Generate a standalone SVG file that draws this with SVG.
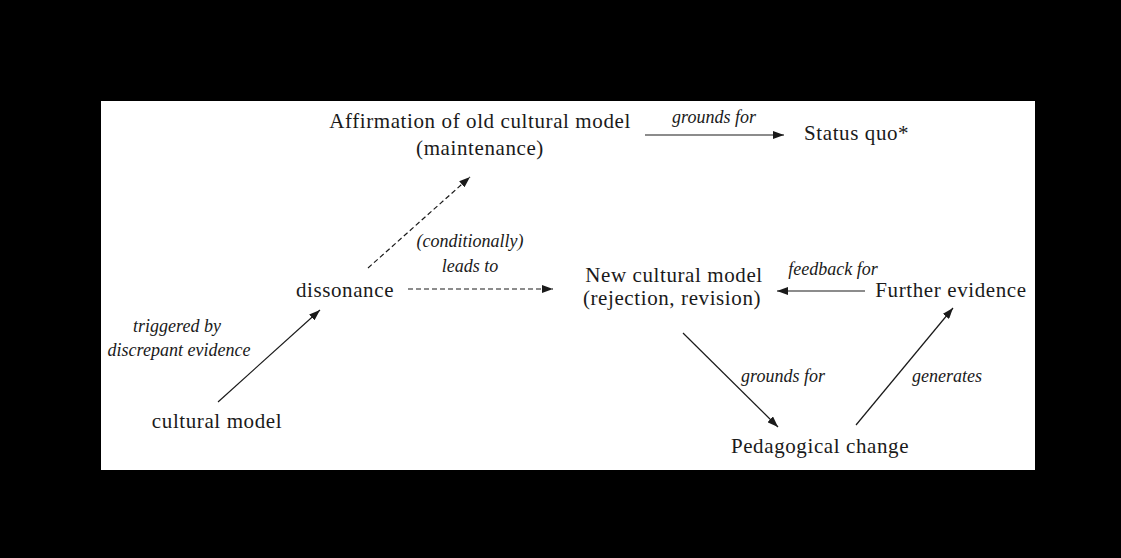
<svg xmlns="http://www.w3.org/2000/svg" width="1121" height="558" viewBox="0 0 1121 558">
<style>
.n{font-family:"Liberation Serif","Times New Roman",serif;font-size:21px;letter-spacing:0.6px;fill:#1a1a1a}
.l{font-family:"Liberation Serif","Times New Roman",serif;font-size:18px;font-style:italic;fill:#1a1a1a}
.c{text-anchor:middle}
.e{stroke:#1a1a1a;stroke-width:1.2;fill:none}
.d{stroke-dasharray:5 3}
</style>
<defs>
<marker id="ah" markerUnits="userSpaceOnUse" markerWidth="12" markerHeight="8" refX="11" refY="4" orient="auto">
<path d="M0,0 L11,4 L0,8 Z" fill="#1a1a1a"/>
</marker>
</defs>
<rect x="0" y="0" width="1121" height="558" fill="#000"/>
<rect x="101" y="101" width="934" height="369" fill="#fff"/>
<g id="connectors">
<line class="e" x1="645" y1="135" x2="784" y2="135" marker-end="url(#ah)"/>
<line class="e d" x1="368" y1="268" x2="470" y2="177" marker-end="url(#ah)"/>
<line class="e d" x1="408" y1="289" x2="553" y2="289" marker-end="url(#ah)"/>
<line class="e" x1="218" y1="402" x2="320" y2="310" marker-end="url(#ah)"/>
<line class="e" x1="865" y1="291" x2="777" y2="291" marker-end="url(#ah)"/>
<line class="e" x1="683" y1="333" x2="778" y2="427" marker-end="url(#ah)"/>
<line class="e" x1="856" y1="425" x2="953" y2="308" marker-end="url(#ah)"/>
<text class="l c" x="714" y="123">grounds for</text>
<text class="l c" x="470" y="247">(conditionally)</text>
<text class="l c" x="470" y="272">leads to</text>
<text class="l c" x="177" y="332">triggered by</text>
<text class="l c" x="179" y="356">discrepant evidence</text>
<text class="l c" x="833" y="275">feedback for</text>
<text class="l c" x="783" y="382">grounds for</text>
<text class="l c" x="947" y="382">generates</text>
</g>
<g id="affirmation"><text class="n c" x="480" y="128">Affirmation of old cultural model</text><text class="n c" x="480" y="155">(maintenance)</text></g>
<g id="status-quo"><text class="n" x="804" y="140">Status quo*</text></g>
<g id="dissonance"><text class="n c" x="345" y="297">dissonance</text></g>
<g id="cultural-model"><text class="n c" x="217" y="428">cultural model</text></g>
<g id="new-cultural-model"><text class="n c" x="674" y="282">New cultural model</text><text class="n c" x="672" y="305">(rejection, revision)</text></g>
<g id="further-evidence"><text class="n c" x="951" y="297">Further evidence</text></g>
<g id="pedagogical-change"><text class="n c" x="820" y="453">Pedagogical change</text></g>
</svg>
